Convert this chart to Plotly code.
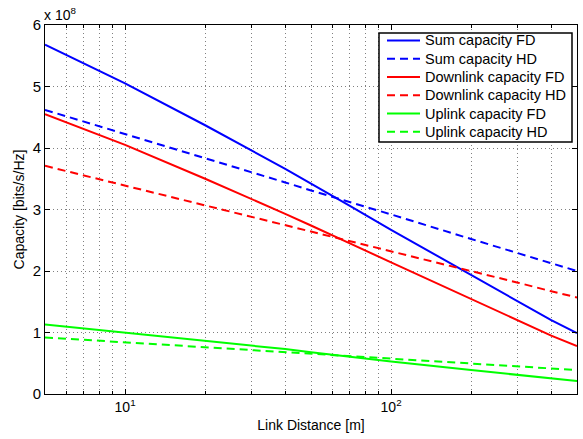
import plotly.graph_objects as go

# Link distance [m]
distance = [5, 10, 20, 30, 40, 50, 60, 70, 100, 200, 300, 400, 500]
scale = 1e8
# capacities in units of 1e8 bits/s/Hz
sum_fd = [5.68, 5.05, 4.37, 3.96, 3.66, 3.42, 3.23, 3.06, 2.67, 1.93, 1.50, 1.20, 0.99]
sum_hd = [4.62, 4.23, 3.83, 3.60, 3.44, 3.31, 3.21, 3.12, 2.92, 2.52, 2.29, 2.13, 2.00]
dl_fd = [4.55, 4.05, 3.50, 3.17, 2.93, 2.74, 2.59, 2.45, 2.14, 1.54, 1.19, 0.95, 0.78]
dl_hd = [3.71, 3.39, 3.07, 2.88, 2.75, 2.64, 2.56, 2.49, 2.32, 2.00, 1.81, 1.67, 1.57]
ul_fd = [1.13, 1.00, 0.87, 0.79, 0.73, 0.68, 0.64, 0.61, 0.53, 0.39, 0.31, 0.25, 0.21]
ul_hd = [0.92, 0.84, 0.76, 0.71, 0.68, 0.65, 0.63, 0.62, 0.58, 0.50, 0.45, 0.42, 0.39]

names = ["Sum capacity FD", "Sum capacity HD", "Downlink capacity FD",
         "Downlink capacity HD", "Uplink capacity FD", "Uplink capacity HD"]
values = [sum_fd, sum_hd, dl_fd, dl_hd, ul_fd, ul_hd]
colors = ["#0000ff", "#0000ff", "#ff0000", "#ff0000", "#00ff00", "#00ff00"]
dashes = ["solid", "8px,5px", "solid", "8px,5px", "solid", "8px,5px"]

y_ticks = [0, 1, 2, 3, 4, 5, 6]
x_ticks = [10, 100]
x_ticktext = ["10<sup>1</sup>", "10<sup>2</sup>"]
x_minor = [5, 6, 7, 8, 9, 20, 30, 40, 50, 60, 70, 80, 90, 200, 300, 400, 500]

W, H = 583, 439
ML, MR, MT, MB = 45, 6, 25, 45
PW, PH = W - ML - MR, H - MT - MB


def px_x(p):
    return (p - ML) / PW


def px_y(p):
    return 1 - (p - MT) / PH


fig = go.Figure()
for name, vals, color, dash in zip(names, values, colors, dashes):
    fig.add_trace(go.Scatter(
        x=distance, y=[v * scale for v in vals], mode="lines", name=name,
        line=dict(color=color, width=2, dash=dash), showlegend=False,
    ))

font = dict(family="Liberation Sans, Arial, Helvetica, sans-serif", size=14, color="black")
grid_col = "#808080"
grid_dash = "1px,3px"

fig.update_layout(
    width=W, height=H,
    margin=dict(l=ML, r=MR, t=MT, b=MB),
    paper_bgcolor="white", plot_bgcolor="white",
    font=font,
    showlegend=False,
)

fig.update_xaxes(
    type="log", range=[0.69897, 2.69897],
    tickmode="array", tickvals=x_ticks, ticktext=x_ticktext,
    showline=True, linecolor="black", linewidth=1, mirror="allticks",
    ticks="inside", ticklen=5, tickcolor="black",
    showgrid=True, gridcolor=grid_col, griddash=grid_dash, gridwidth=1,
    minor=dict(tickmode="array", tickvals=x_minor, ticks="inside", ticklen=3,
               tickcolor="black", showgrid=True,
               gridcolor=grid_col, griddash=grid_dash, gridwidth=1),
    zeroline=False,
    title=dict(text="Link Distance [m]", standoff=6, font=dict(size=14)),
    tickfont=dict(size=14),
)
fig.update_yaxes(
    range=[0, 6 * scale],
    tickmode="array",
    tickvals=[t * scale for t in y_ticks], ticktext=[str(t) for t in y_ticks],
    showline=True, linecolor="black", linewidth=1, mirror="allticks",
    ticks="inside", ticklen=5, tickcolor="black",
    showgrid=True, gridcolor=grid_col, griddash=grid_dash, gridwidth=1,
    zeroline=False,
    title=dict(text="Capacity [bits/s/Hz]", standoff=4, font=dict(size=14)),
    tickfont=dict(size=15),
)

fig.add_annotation(
    text="x 10<sup>8</sup>", xref="paper", yref="paper",
    x=0.0, y=1.0, xanchor="left", yanchor="bottom", showarrow=False,
    font=dict(size=14), xshift=-3,
)

# legend box (drawn as MATLAB-style boxed legend)
fig.add_shape(type="rect", xref="paper", yref="paper",
              x0=px_x(379), x1=px_x(572), y0=px_y(142), y1=px_y(33),
              line=dict(color="black", width=1.5), fillcolor="white", layer="above")
row_y = [40.5, 58.7, 77, 95.2, 113.5, 131.7]
for i, (name, color, dash) in enumerate(zip(names, colors, dashes)):
    yy = px_y(row_y[i])
    fig.add_shape(type="line", xref="paper", yref="paper",
                  x0=px_x(387), x1=px_x(420), y0=yy, y1=yy,
                  line=dict(color=color, width=2, dash=dash), layer="above")
    fig.add_annotation(text=name, xref="paper", yref="paper",
                       x=px_x(423), y=yy, xanchor="left", yanchor="middle",
                       showarrow=False, font=dict(size=14.5))

fig.write_html("out.html", config={"displayModeBar": False},
               post_script="document.body.style.margin='0px';")
